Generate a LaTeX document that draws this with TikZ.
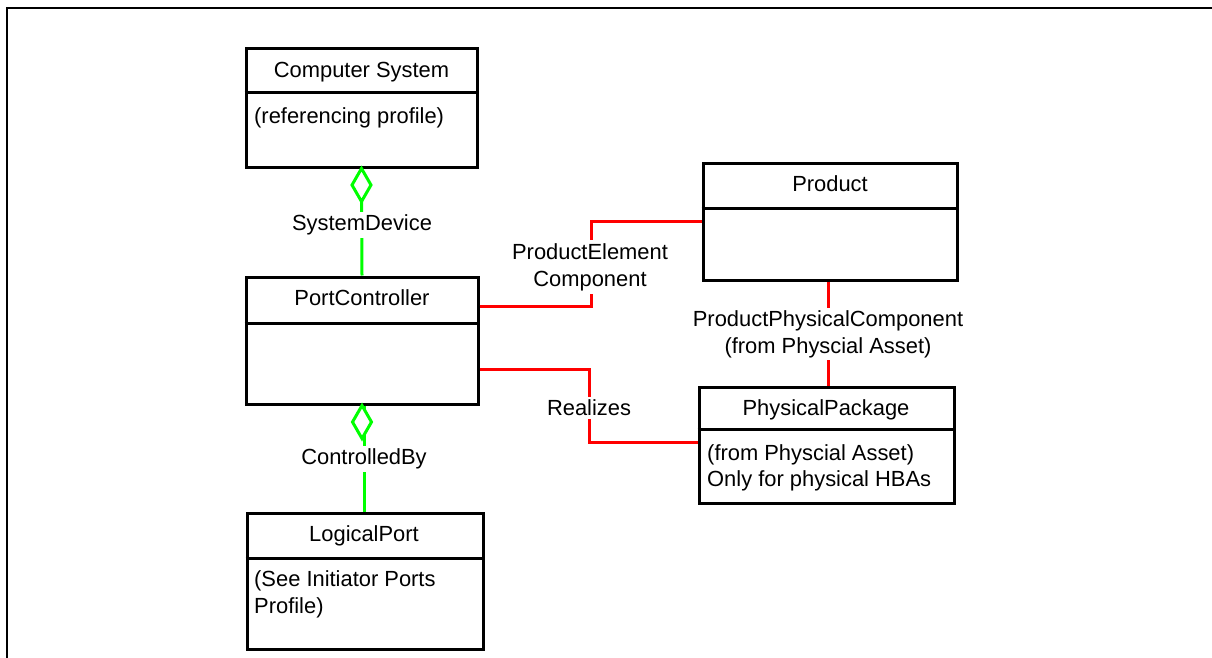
\documentclass[tikz,border=0pt]{standalone}
\usepackage{fontspec}
\setmainfont{Liberation Sans}
\usetikzlibrary{calc}
\definecolor{umlgreen}{RGB}{0,255,0}
\definecolor{umlred}{RGB}{255,0,0}
\begin{document}
\begin{tikzpicture}[x=1pt,y=-1pt,
  font=\fontsize{21.9}{27}\selectfont,
  classbox/.style={draw=black,line width=3pt,rectangle,inner sep=0pt},
  divider/.style={draw=black,line width=3pt},
  txt/.style={inner sep=0pt,anchor=base},
  bodytxt/.style={inner sep=0pt,anchor=base west},
  gline/.style={draw=umlgreen,line width=3pt},
  rline/.style={draw=umlred,line width=3pt},
  lbl/.style={fill=white,inner sep=3pt,align=center},
  frame/.style={draw=black,line width=2pt}]
\useasboundingbox (0,0) rectangle (1212,658);
\draw[frame] (1212,8) -- (7,8) -- (7,658);

% boxes
\node[classbox,minimum width=231pt,minimum height=118pt] (cs) at (361.5,108) {};
\node[classbox,minimum width=232pt,minimum height=127pt] (pc) at (362,340.5) {};
\node[classbox,minimum width=236pt,minimum height=136pt] (lp) at (365,581) {};
\node[classbox,minimum width=254pt,minimum height=117pt] (prod) at (830,221.5) {};
\node[classbox,minimum width=255pt,minimum height=116pt] (pp) at (826.5,445) {};

% dividers
\draw[divider] (cs.west |- 0,93) -- (cs.east |- 0,93);
\draw[divider] (pc.west |- 0,323) -- (pc.east |- 0,323);
\draw[divider] (lp.west |- 0,558) -- (lp.east |- 0,558);
\draw[divider] (prod.west |- 0,208) -- (prod.east |- 0,208);
\draw[divider] (pp.west |- 0,429) -- (pp.east |- 0,429);

% titles
\node[txt] (cst) at (361.5,78) {Computer System};
\node[txt] (pct) at (362,305) {PortController};
\node[txt] (lpt) at (364,541) {LogicalPort};
\node[txt] (prodt) at (830,191) {Product};
\node[txt] (ppt) at (826,415) {PhysicalPackage};

% bodies
\node[bodytxt] (csb) at (254,124) {(referencing profile)};
\node[bodytxt] (lpb1) at (254,586) {(See Initiator Ports};
\node[bodytxt] (lpb2) at (254,613) {Profile)};
\node[bodytxt] (ppb1) at (707,460) {(from Physcial Asset)};
\node[bodytxt] (ppb2) at (707,486) {Only for physical HBAs};

% SystemDevice (aggregation)
\draw[gline] (cs.south) -- (pc.north);
\draw[gline,fill=white] (cs.south) -- ++(9.5,16.5) -- ++(-9.5,16.5) -- ++(-9.5,-16.5) -- cycle;
\node[lbl] (sd) at (362,225) {SystemDevice};

% ControlledBy (aggregation)
\coordinate (cbtop) at ($(pc.south)+(2,0)$);
\draw[gline] (cbtop) -- (cbtop |- lp.north);
\draw[gline,fill=white] (pc.south) -- ++(9.5,16.5) -- ++(-9.5,16.5) -- ++(-9.5,-16.5) -- cycle;
\node[lbl] (cb) at (364,459) {ControlledBy};

% ProductElementComponent
\coordinate (pcA) at ($(pc.north east)+(0,31)$);
\coordinate (pcB) at ($(pc.north east)+(0,94)$);
\draw[rline] (pcA) -- (pcA -| 591,0) -- (591,0 |- prod.west) -- (prod.west);
\node[lbl] (pec) at (590,267) {ProductElement\\Component};

% Realizes
\coordinate (ppW) at ($(pp.north west)+(0,57)$);
\draw[rline] (pcB) -- (pcB -| 589,0) -- (589,0 |- ppW) -- (ppW);
\node[lbl] (real) at (589,408) {Realizes};

% ProductPhysicalComponent
\draw[rline] (prod.south -| 828,0) -- (pp.north -| 828,0);
\node[lbl,inner sep=2pt] (ppc) at (828,334) {ProductPhysicalComponent\\(from Physcial Asset)};
\end{tikzpicture}
\end{document}
